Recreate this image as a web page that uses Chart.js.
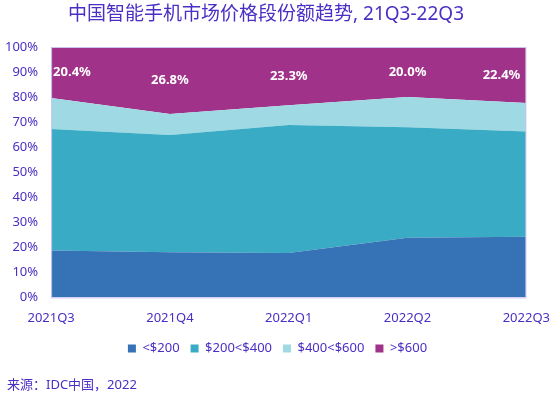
<!DOCTYPE html>
<html><head><meta charset="utf-8">
<script src="https://cdn.jsdelivr.net/npm/chart.js@4.4.1/dist/chart.umd.min.js"></script>
<style>html,body{margin:0;padding:0;background:#fff;}canvas{display:block;}</style>
</head><body>
<canvas id="c" width="555" height="399"></canvas>
<script>
const categories = ['2021Q3','2021Q4','2022Q1','2022Q2','2022Q3'];
const seriesNames = ['<$200','$200<$400','$400<$600','>$600'];
const under200 = [18.7, 18.0, 17.7, 23.8, 24.2];
const s200to400 = [48.6, 46.9, 51.1, 44.2, 42.1];
const s400to600 = [12.3, 8.3, 7.9, 12.0, 11.3];
const over600 = [20.4, 26.8, 23.3, 20.0, 22.4];
const yTicks = [0,10,20,30,40,50,60,70,80,90,100];
const titleText = '中国智能手机市场价格段份额趋势, 21Q3-22Q3';
const sourceText = '来源：IDC中国，2022';

const colors = ['#3572b6','#3aabc5','#9fd9e3','#a03389'];
const textColor = '#4b2ec4';
const FONT = '"Segoe UI","Noto Sans","Noto Sans CJK SC",sans-serif';

const values = [under200, s200to400, s400to600, over600];
const datasets = values.map((v,i)=>({
  label: seriesNames[i], data: v, backgroundColor: colors[i], borderColor: colors[i],
  borderWidth: 0, pointRadius: 0, fill: i===0 ? 'origin' : '-1', tension: 0, stack: 's'
}));

const extras = {
  id:'extras',
  afterDatasetsDraw(chart){
    const ctx = chart.ctx, a = chart.chartArea, xs = chart.scales.x, ys = chart.scales.y;
    ctx.save();
    ctx.font = 'bold 13px ' + FONT;
    ctx.fillStyle = '#ffffff';
    ctx.textBaseline = 'middle';
    ctx.textAlign = 'center';
    over600.forEach((v,i)=>{
      const txt = v.toFixed(1)+'%';
      const w = ctx.measureText(txt).width;
      let x = xs.getPixelForValue(i);
      x = Math.max(a.left + w/2 + 2, Math.min(a.right - w/2 - 6, x));
      const y = (ys.getPixelForValue(100) + ys.getPixelForValue(100 - v)) / 2;
      ctx.fillText(txt, x, y);
    });
    ctx.strokeStyle = '#c9c3ef'; ctx.lineWidth = 1;
    ctx.strokeRect(a.left+0.5, a.top+0.5, a.right-a.left-1, a.bottom-a.top);
    ctx.restore();
  },
  afterDraw(chart){
    const ctx = chart.ctx;
    ctx.save();
    ctx.fillStyle = textColor;
    ctx.textBaseline = 'middle';
    ctx.font = '19px ' + FONT;
    ctx.textAlign = 'center';
    ctx.fillText(titleText, 266, 15);
    ctx.font = '13px ' + FONT;
    ctx.textAlign = 'left';
    ctx.fillText(sourceText, 7, 385);
    ctx.restore();
  }
};

new Chart(document.getElementById('c'), {
  type: 'line',
  data: { labels: categories, datasets },
  options: {
    responsive: false, animation: false,
    layout: { padding: { top: 47, right: 0, bottom: 34, left: 0 } },
    plugins: {
      title: { display: false },
      tooltip: { enabled: false },
      legend: {
        position: 'bottom',
        labels: { boxWidth: 8, boxHeight: 8, color: textColor, font: { size: 13, family: FONT }, padding: 11 }
      }
    },
    scales: {
      x: {
        grid: { display: false }, border: { display: false },
        offset: false,
        ticks: { color: textColor, font: { size: 13, family: FONT }, maxRotation: 0, padding: 5 }
      },
      y: {
        stacked: true, min: 0, max: 100,
        grid: { display: false }, border: { display: false },
        afterBuildTicks(s){ s.ticks = yTicks.map(v=>({value:v})); },
        ticks: { color: textColor, font: { size: 13, family: FONT }, padding: 5, callback: v => v + '%' }
      }
    }
  },
  plugins: [extras]
});
</script>
</body></html>
